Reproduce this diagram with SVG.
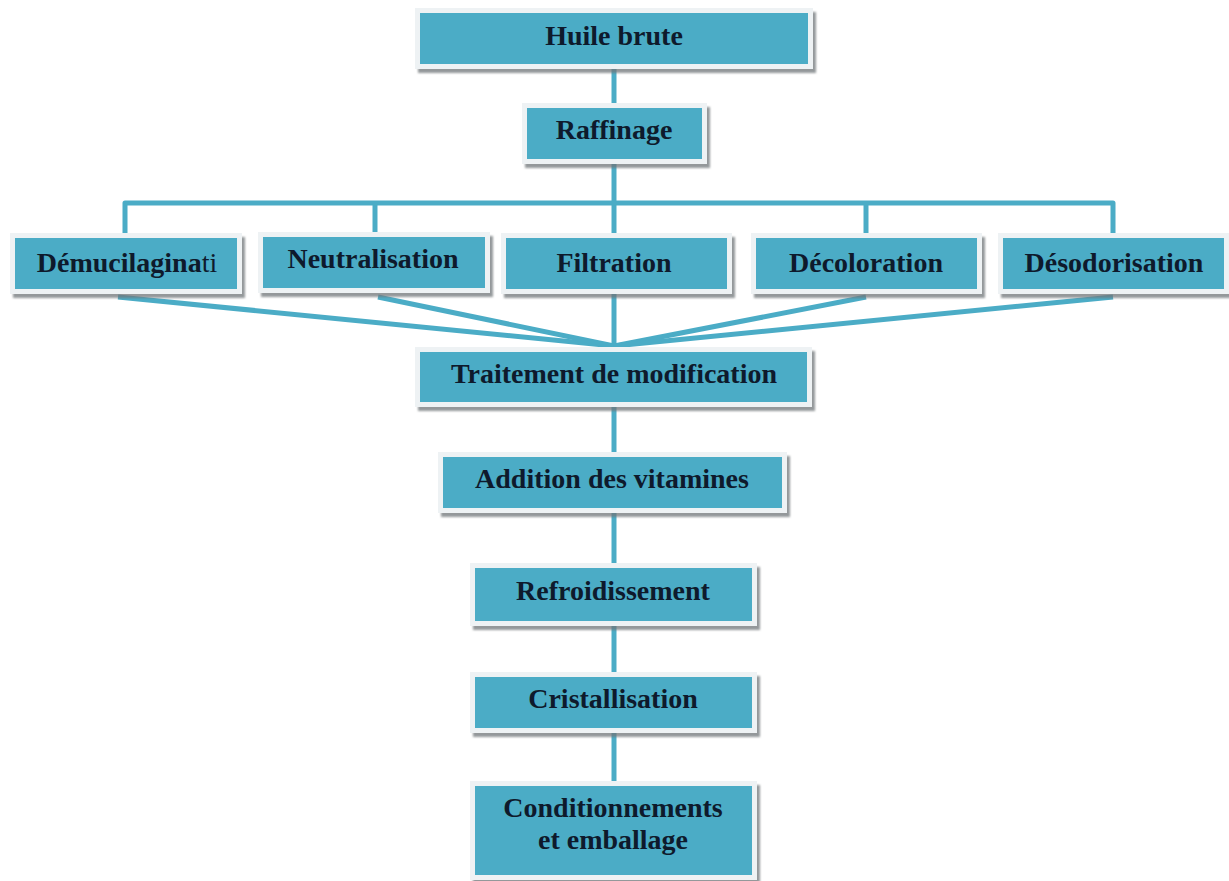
<svg xmlns="http://www.w3.org/2000/svg" width="1229" height="881" viewBox="0 0 1229 881">
<defs>
<filter id="sh" x="-5%" y="-20%" width="115%" height="150%">
<feDropShadow dx="3" dy="4" stdDeviation="1" flood-color="#6f7478" flood-opacity="0.75"/>
</filter>
</defs>
<style>
.frame{fill:#eef2f4;filter:url(#sh)}
.fill{fill:#4bacc6}
.lbl{font-family:"Liberation Serif","Times New Roman",serif;font-weight:bold;font-size:28px;fill:#0e1a2c;text-anchor:middle}
.reg{font-weight:normal}
.con{stroke:#4bacc6;stroke-width:5;fill:none;stroke-linejoin:round}
</style>
<rect width="1229" height="881" fill="#ffffff"/>
<g id="connectors">
<line class="con" x1="614" y1="68" x2="614" y2="106"/>
<line class="con" x1="614" y1="162" x2="614" y2="240"/>
<path class="con" d="M125,236 V203 H1113 V236"/>
<line class="con" x1="375" y1="203" x2="375" y2="236"/>
<line class="con" x1="866" y1="203" x2="866" y2="236"/>
<line class="con" x1="614" y1="294" x2="614" y2="350"/>
<line class="con" x1="118" y1="297" x2="614" y2="346"/>
<line class="con" x1="378" y1="297" x2="614" y2="346"/>
<line class="con" x1="866" y1="297" x2="614" y2="346"/>
<line class="con" x1="1113" y1="297" x2="614" y2="346"/>
<line class="con" x1="614" y1="405" x2="614" y2="455"/>
<line class="con" x1="614" y1="512" x2="614" y2="566"/>
<line class="con" x1="614" y1="624" x2="614" y2="675"/>
<line class="con" x1="614" y1="731" x2="614" y2="784"/>
</g>
<g id="n1"><rect class="frame" x="415" y="8" width="398" height="61"/><rect class="fill" x="420" y="13" width="388" height="51"/><text class="lbl" x="614" y="45">Huile brute</text></g>
<g id="n2"><rect class="frame" x="522" y="103" width="185" height="61"/><rect class="fill" x="527" y="108" width="175" height="51"/><text class="lbl" x="614" y="139">Raffinage</text></g>
<g id="n3"><rect class="frame" x="10" y="233" width="232" height="61"/><rect class="fill" x="15" y="238" width="222" height="51"/><text class="lbl" x="127" y="272">Démucilagina<tspan class="reg">ti</tspan></text></g>
<g id="n4"><rect class="frame" x="258" y="232" width="232" height="61"/><rect class="fill" x="263" y="237" width="222" height="51"/><text class="lbl" x="373" y="268">Neutralisation</text></g>
<g id="n5"><rect class="frame" x="501" y="233" width="231" height="61"/><rect class="fill" x="506" y="238" width="221" height="51"/><text class="lbl" x="614" y="272">Filtration</text></g>
<g id="n6"><rect class="frame" x="751" y="233" width="231" height="61"/><rect class="fill" x="756" y="238" width="221" height="51"/><text class="lbl" x="866" y="272">Décoloration</text></g>
<g id="n7"><rect class="frame" x="998" y="233" width="231" height="61"/><rect class="fill" x="1003" y="238" width="221" height="51"/><text class="lbl" x="1114" y="272">Désodorisation</text></g>
<g id="n8"><rect class="frame" x="415" y="347" width="397" height="60"/><rect class="fill" x="420" y="352" width="387" height="50"/><text class="lbl" x="614" y="383">Traitement de modification</text></g>
<g id="n9"><rect class="frame" x="438" y="452" width="349" height="61"/><rect class="fill" x="443" y="457" width="339" height="51"/><text class="lbl" x="612" y="488">Addition des vitamines</text></g>
<g id="n10"><rect class="frame" x="470" y="563" width="287" height="63"/><rect class="fill" x="475" y="568" width="277" height="53"/><text class="lbl" x="613" y="600">Refroidissement</text></g>
<g id="n11"><rect class="frame" x="470" y="672" width="287" height="61"/><rect class="fill" x="475" y="677" width="277" height="51"/><text class="lbl" x="613" y="708">Cristallisation</text></g>
<g id="n12"><rect class="frame" x="470" y="781" width="287" height="99"/><rect class="fill" x="475" y="786" width="277" height="89"/><text class="lbl" x="613" y="817">Conditionnements</text><text class="lbl" x="613" y="849">et emballage</text></g>
</svg>
